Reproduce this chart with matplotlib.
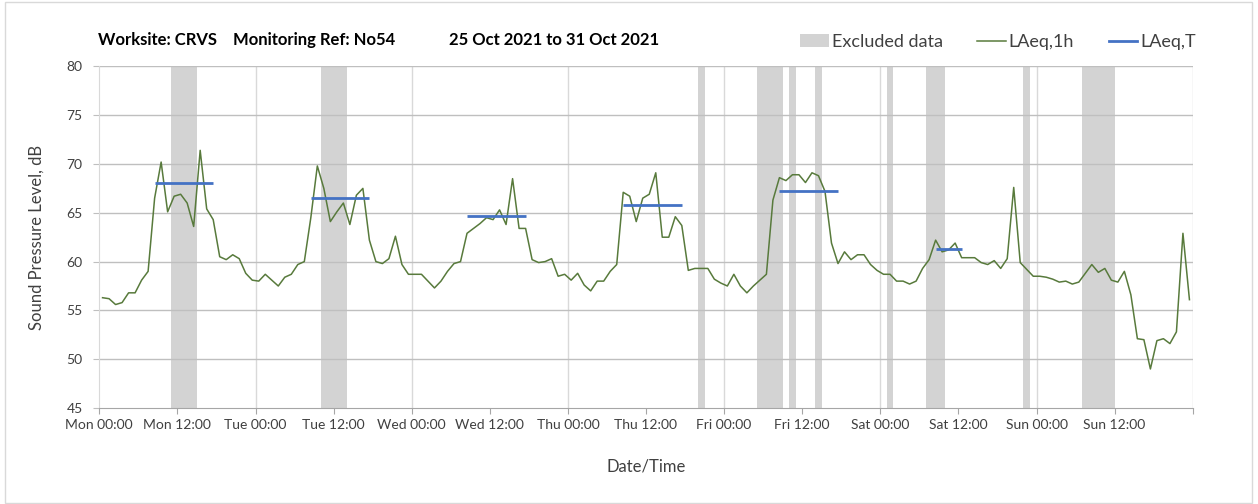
import numpy as np
import matplotlib
matplotlib.use("Agg")
import matplotlib.pyplot as plt
from matplotlib.patches import Patch, Rectangle
from matplotlib.lines import Line2D

plt.rcParams['font.family'] = ['Lato', 'DejaVu Sans']

# hourly LAeq,1h readings, Mon 00:00 .. Sun 23:00 (one value per hour)
laeq_1h = [
    56.3, 56.2, 55.6, 55.8, 56.8, 56.8, 58.1, 59.0, 66.5, 70.2, 65.1, 66.7,
    66.9, 66.0, 63.6, 71.4, 65.4, 64.3, 60.5, 60.2, 60.7, 60.3, 58.8, 58.1,
    58.0, 58.7, 58.1, 57.5, 58.4, 58.7, 59.7, 60.0, 64.5, 69.8, 67.5, 64.1,
    65.1, 66.0, 63.8, 66.8, 67.5, 62.2, 60.0, 59.8, 60.3, 62.6, 59.7, 58.7,
    58.7, 58.7, 58.0, 57.3, 58.0, 59.0, 59.8, 60.0, 62.9, 63.4, 63.9, 64.5,
    64.3, 65.3, 63.8, 68.5, 63.4, 63.4, 60.2, 59.9, 60.0, 60.3, 58.5, 58.7,
    58.1, 58.8, 57.6, 57.0, 58.0, 58.0, 59.0, 59.7, 67.1, 66.7, 64.1, 66.5,
    66.9, 69.1, 62.5, 62.5, 64.6, 63.7, 59.1, 59.3, 59.3, 59.3, 58.2, 57.8,
    57.5, 58.7, 57.5, 56.8, 57.5, 58.1, 58.7, 66.3, 68.6, 68.3, 68.9, 68.9,
    68.1, 69.1, 68.8, 67.2, 61.9, 59.8, 61.0, 60.2, 60.7, 60.7, 59.7, 59.1,
    58.7, 58.7, 58.0, 58.0, 57.7, 58.0, 59.3, 60.2, 62.2, 61.0, 61.2, 61.9,
    60.4, 60.4, 60.4, 59.9, 59.7, 60.1, 59.3, 60.3, 67.6, 59.9, 59.2, 58.5,
    58.5, 58.4, 58.2, 57.9, 58.0, 57.7, 57.9, 58.8, 59.7, 58.9, 59.3, 58.1,
    57.9, 59.0, 56.6, 52.1, 52.0, 49.0, 51.9, 52.1, 51.6, 52.8, 62.9, 56.1,
]

# LAeq,T daytime periods: first hour, last hour, level
period_start = [8, 32, 56, 80, 104, 128]
period_end = [17, 41, 65, 89, 113, 132]
laeq_t = [68.1, 66.5, 64.7, 65.8, 67.2, 61.3]

# excluded data windows (hours from Mon 00:00)
excl_start = [11, 34, 92, 101, 106, 110, 121, 127, 142, 151]
excl_end = [15, 38, 93, 105, 107, 111, 122, 130, 143, 156]

tick_labels = ['Mon 00:00', 'Mon 12:00', 'Tue 00:00', 'Tue 12:00', 'Wed 00:00',
               'Wed 12:00', 'Thu 00:00', 'Thu 12:00', 'Fri 00:00', 'Fri 12:00',
               'Sat 00:00', 'Sat 12:00', 'Sun 00:00', 'Sun 12:00', '']

GREEN = '#587a3c'
BLUE = '#4472c4'
SHADE = '#d3d3d3'
GRID = '#bfbfbf'
TXT = '#404040'

W, H = 1258, 504
fig = plt.figure(figsize=(W / 100, H / 100), dpi=100)
ax = fig.add_axes([99.3 / W, 1 - 408 / H, (1192.7 - 99.3) / W, (408 - 66.4) / H])

hours = np.arange(len(laeq_1h)) + 0.5

for s, e in zip(excl_start, excl_end):
    ax.axvspan(s, e, color=SHADE, lw=0, zorder=0.2)

for y in range(50, 81, 5):
    ax.axhline(y, color=GRID, lw=1.0, zorder=0.5)
for d in range(24, 169, 24):
    ax.axvline(d, color='#d9d9d9', lw=1.0, zorder=0.4)

ax.plot(hours, laeq_1h, color=GREEN, lw=1.1, zorder=3)
for s, e, v in zip(period_start, period_end, laeq_t):
    ax.plot([s + 0.5, e + 0.5], [v, v], color=BLUE, lw=2.0, zorder=4,
            solid_capstyle='butt')

ax.set_xlim(0, 168)
ax.set_ylim(45, 80)
ax.set_xticks(np.arange(0, 169, 12))
ax.set_xticklabels(tick_labels)
ax.set_yticks(range(45, 81, 5))

for side in ['top', 'right']:
    ax.spines[side].set_visible(False)
ax.spines['left'].set_color('#d9d9d9')
ax.spines['bottom'].set_color('#a6a6a6')
ax.tick_params(axis='x', colors=TXT, labelsize=10, length=4, color='#a6a6a6', pad=4)
ax.tick_params(axis='y', colors=TXT, labelsize=10, length=4, color=GRID, pad=8)

fig.text(37 / W, 1 - 237 / H, 'Sound Pressure Level, dB', rotation=90,
         ha='center', va='center', fontsize=12, color=TXT)
fig.text(646 / W, 1 - 467 / H, 'Date/Time', ha='center', va='center',
         fontsize=12, color=TXT)

# title pieces
for x, s in [(98, 'Worksite: CRVS'), (233, 'Monitoring Ref: No54'),
             (449, '25 Oct 2021 to 31 Oct 2021')]:
    fig.text(x / W, 1 - 40 / H, s, ha='left', va='center', fontsize=12,
             fontweight='bold', color='black')

handles = [Patch(facecolor=SHADE, edgecolor='none'),
           Line2D([], [], color=GREEN, lw=1.1),
           Line2D([], [], color=BLUE, lw=2.0)]
fig.legend(handles, ['Excluded data', 'LAeq,1h', 'LAeq,T'], ncol=3,
           loc='center right', bbox_to_anchor=(1212 / W, 1 - 42 / H),
           frameon=False, fontsize=13, handlelength=1.6, handletextpad=0.15,
           columnspacing=1.9, labelcolor=TXT)

fig.add_artist(Rectangle((5 / W, 1 / H), 1247 / W, 501 / H, fill=False,
                         edgecolor='#d9d9d9', lw=1.0, transform=fig.transFigure))

plt.savefig('out.png', dpi=100)
plt.close()
